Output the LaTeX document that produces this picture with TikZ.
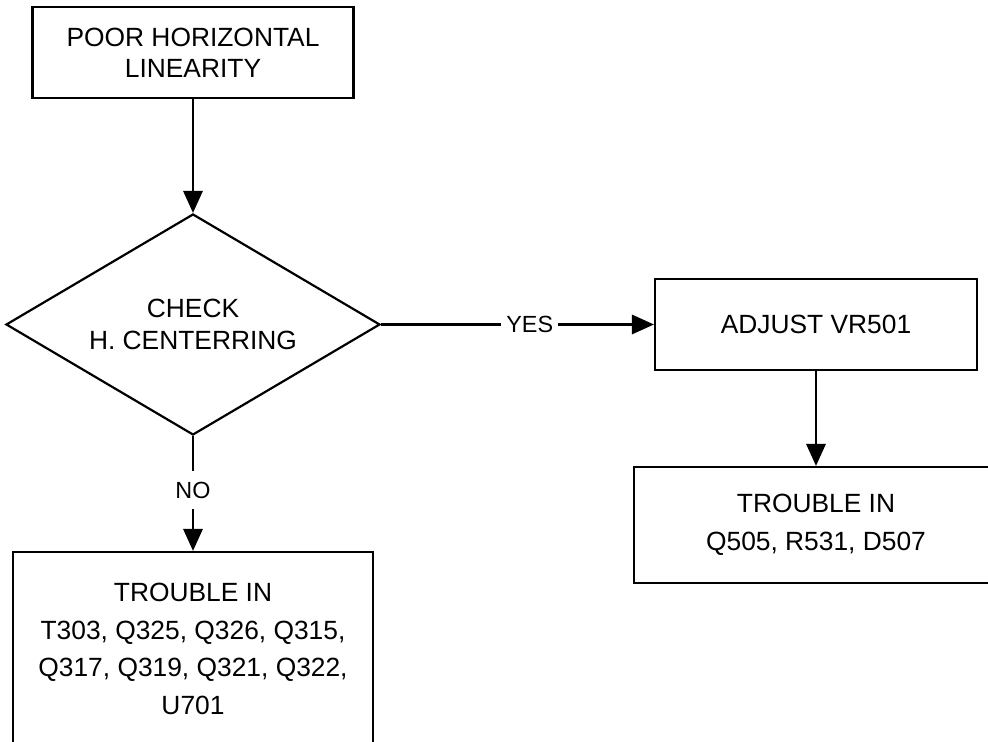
\documentclass[tikz,border=0pt]{standalone}
\usepackage{fontspec}
\setmainfont{Liberation Sans}
\usetikzlibrary{shapes.geometric,arrows.meta}

\begin{document}
\begin{tikzpicture}[
    every node/.style={font=\fontsize{15}{17.8}\selectfont, align=center},
    block/.style={draw, line width=1.25pt, minimum width=6.42cm, minimum height=1.82cm, inner sep=0pt},
    trouble/.style={draw, line width=1.25pt, inner sep=0pt, font=\fontsize{15}{21.5}\selectfont},
    decision/.style={draw, diamond, aspect=1.7, line width=1.25pt, minimum width=7.48cm, minimum height=4.42cm, inner sep=0pt},
    flow/.style={-{Triangle[length=12.5pt,width=11pt]}, line width=1.25pt},
    answer/.style={fill=white, inner xsep=3pt, inner ysep=6pt, font=\fontsize{13.3}{16}\selectfont}
  ]
    \useasboundingbox (0,0) rectangle (19.76,14.84);
    \node [block] (poor) at (3.86,13.79) {POOR HORIZONTAL\\LINEARITY};
    \node [decision] (check) at (3.86,8.35) {CHECK\\H. CENTERRING};
    \node [block, minimum width=6.44cm] (adjust) at (16.32,8.35) {ADJUST VR501};
    \node [trouble, minimum width=7.28cm, minimum height=2.32cm] (inq) at (16.32,4.34) {TROUBLE IN\\Q505, R531, D507};
    \node [trouble, minimum width=7.2cm, minimum height=3.88cm] (int) at (3.86,1.86) {TROUBLE IN\\T303, Q325, Q326, Q315,\\Q317, Q319, Q321, Q322,\\U701};
    \draw [flow] (poor) -- (check);
    \draw [flow] (check) -- node [answer, pos=0.545] (yes) {YES} (adjust);
    \draw [flow] (check) -- node [answer, pos=0.47] (no) {NO} (int);
    \draw [flow] (adjust) -- (inq);
\end{tikzpicture}
\end{document}
